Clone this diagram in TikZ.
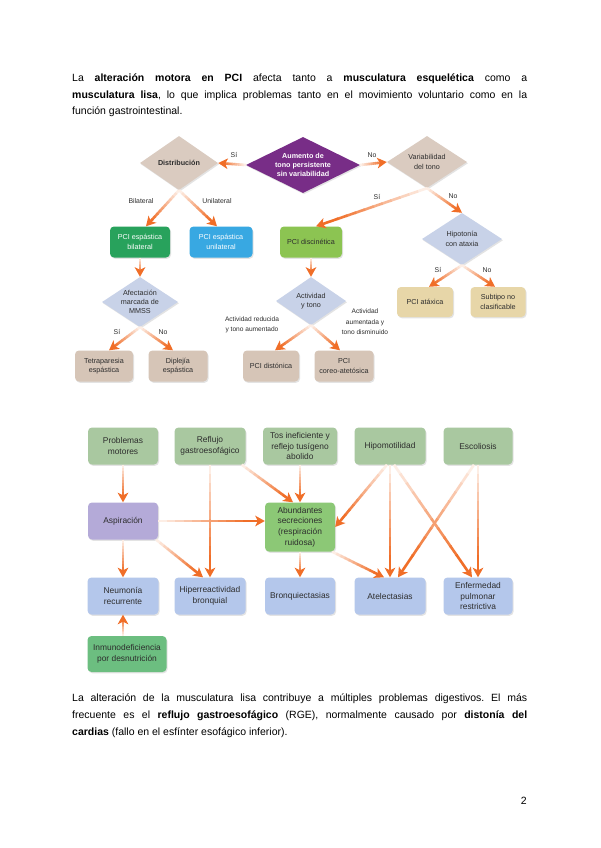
\documentclass[tikz,border=0pt]{standalone}
\usepackage{fontspec}
\setmainfont{Liberation Sans}
\usetikzlibrary{shapes.geometric,arrows.meta,calc,shadows}
\definecolor{txt}{RGB}{45,45,45}
\definecolor{purp}{RGB}{120,45,135}
\definecolor{taupe}{RGB}{218,203,192}
\definecolor{gbil}{RGB}{40,162,92}
\definecolor{buni}{RGB}{56,168,226}
\definecolor{gdis}{RGB}{140,196,82}
\definecolor{lblue}{RGB}{200,210,232}
\definecolor{beige}{RGB}{231,214,168}
\definecolor{taupeb}{RGB}{214,197,183}
\definecolor{sage}{RGB}{169,200,160}
\definecolor{lav}{RGB}{180,170,216}
\definecolor{agreen}{RGB}{140,200,118}
\definecolor{lbluet}{RGB}{180,199,235}
\definecolor{igreen}{RGB}{108,190,128}
\definecolor{arrc}{RGB}{240,110,40}
\newcommand\fntA{\fontsize{7.2}{9.3}\selectfont}
\newcommand\fntB{\fontsize{8.4}{10.6}\selectfont}
\newcommand\fntC{\fontsize{6.9}{8.5}\selectfont}
\newcommand\fntD{\fontsize{6.6}{10.5}\selectfont}
\newcommand\fntP{\fontsize{10.5}{16}\selectfont}
\newcommand{\garr}[2]{%
  \foreach \k in {0,...,9}{%
    \pgfmathtruncatemacro\gcc{12+\k*9}%
    \pgfmathsetmacro\gta{0.08*\k}%
    \pgfmathsetmacro\gtb{0.08*\k+0.09}%
    \draw[line width=2.6pt, draw=arrc!\gcc] ($(#1)!\gta!(#2)$) -- ($(#1)!\gtb!(#2)$);
  }%
  \draw[line width=2.6pt, draw=arrc, -{Stealth[length=9.5pt,width=10.5pt,inset=2.5pt]}] ($(#1)!0.8!(#2)$) -- (#2);
}
\begin{document}
\frenchspacing
\begin{tikzpicture}[x=1pt,y=-1pt,
  box/.style={rounded corners=4pt, inner sep=1.5pt, align=center, text=txt,
    drop shadow={opacity=0.22,shadow xshift=1pt,shadow yshift=-1.3pt}},
  dia/.style={diamond, inner sep=0pt, draw=none,
    drop shadow={opacity=0.22,shadow xshift=1pt,shadow yshift=-1.3pt}},
  dtxt/.style={align=center, inner sep=0pt, text=txt, font=\fntA},
  lbl/.style={inner sep=0pt, text=txt, font=\fntC},
  tb/.style={box, font=\fntA, minimum height=31pt},
  bb/.style={box, font=\fntB, minimum height=37pt},
  para/.style={anchor=base west, inner sep=0pt, font=\fntP, text=black}
]
\useasboundingbox (0,0) rectangle (600,848);
\fill[white] (0,0) rectangle (600,848);

% ---------- top paragraph ----------
\node[para] (p1) at (72,82) {\makebox[455pt][s]{La \textbf{alteración motora en PCI} afecta tanto a \textbf{musculatura esquelética} como a}};
\node[para] (p2) at (72,98.5) {\makebox[455pt][s]{\textbf{musculatura lisa}, lo que implica problemas tanto en el movimiento voluntario como en la}};
\node[para] (p3) at (72,115) {función gastrointestinal.};

% ---------- top chart ----------
\node[dia, fill=purp, minimum width=114pt, minimum height=56pt] (aum) at (303,165) {};
\node[dtxt, text=white, font=\fntA\bfseries] (aumt) at (aum) {Aumento de\\tono persistente\\sin variabilidad};
\node[dia, fill=taupe, minimum width=78pt, minimum height=54pt] (dist) at (179,163) {};
\node[dtxt, font=\fntA\bfseries] (distt) at (dist) {Distribución};
\node[dia, fill=taupe, minimum width=80pt, minimum height=52pt] (var) at (427,162) {};
\node[dtxt] (vart) at (var) {Variabilidad\\del tono};

\node[tb, fill=gbil, text=white, minimum width=60pt] (bil) at (140,242) {PCI espástica\\bilateral};
\node[tb, fill=buni, text=white, minimum width=63pt] (uni) at (221,242) {PCI espástica\\unilateral};
\node[tb, fill=gdis, minimum width=62pt] (disc) at (311,242) {PCI discinética};

\node[dia, fill=lblue, minimum width=80pt, minimum height=52pt] (hipo) at (462,239) {};
\node[dtxt] (hipot) at (hipo) {Hipotonía\\con ataxia};
\node[tb, fill=beige, minimum width=56pt, minimum height=30pt] (atax) at (425,302) {PCI atáxica};
\node[tb, fill=beige, minimum width=55pt, minimum height=30pt] (subt) at (498,302) {Subtipo no\\clasificable};

\node[dia, fill=lblue, minimum width=76pt, minimum height=50pt] (mmss) at (140,302) {};
\node[dtxt] (mmsst) at (mmss) {Afectación\\marcada de\\MMSS};
\node[tb, fill=taupeb, minimum width=58pt] (tetra) at (104,366) {Tetraparesia\\espástica};
\node[tb, fill=taupeb, minimum width=59pt] (dipl) at (178,366) {Diplejía\\espástica};

\node[dia, fill=lblue, minimum width=70pt, minimum height=48pt] (act) at (311,301) {};
\node[dtxt] (actt) at (act) {Actividad\\y tono};
\node[tb, fill=taupeb, minimum width=56pt] (dtn) at (271,366) {PCI distónica};
\node[tb, fill=taupeb, minimum width=59pt] (coreo) at (344,366) {PCI\\coreo-atetósica};

\node[lbl] (l1) at (234,155) {Sí};
\node[lbl] (l2) at (372,155) {No};
\node[lbl] (l3) at (141,201) {Bilateral};
\node[lbl] (l4) at (217,201) {Unilateral};
\node[lbl] (l5) at (377,197) {Sí};
\node[lbl] (l6) at (453,196) {No};
\node[lbl] (l7) at (438,270) {Sí};
\node[lbl] (l8) at (487,270) {No};
\node[lbl] (l9) at (117,332) {Sí};
\node[lbl] (l10) at (163,332) {No};
\node[lbl, align=center, font=\fntD] (l11) at (252,325) {Actividad reducida\\y tono aumentado};
\node[lbl, align=center, font=\fntD] (l12) at (365,322) {Actividad\\aumentada y\\tono disminuido};

\coordinate (cbil) at ([xshift=6pt]bil.north);
\coordinate (cuni) at ([xshift=-4pt]uni.north);
\coordinate (cdisc) at ([xshift=5pt]disc.north);
\coordinate (catax) at ([xshift=4pt]atax.north);
\coordinate (csubt) at ([xshift=-3pt]subt.north);
\coordinate (ctetra) at ([xshift=5pt]tetra.north);
\coordinate (cdipl) at ([xshift=-5pt]dipl.north);
\coordinate (cdtn) at ([xshift=4pt]dtn.north);
\coordinate (ccoreo) at ([xshift=-4pt]coreo.north);

\garr{aum.west}{dist.east}
\garr{aum.east}{var.west}
\garr{dist.south}{cbil}
\garr{dist.south}{cuni}
\garr{var.south}{cdisc}
\garr{var.south}{hipo.north}
\garr{hipo.south}{catax}
\garr{hipo.south}{csubt}
\garr{bil.south}{mmss.north}
\garr{mmss.south}{ctetra}
\garr{mmss.south}{cdipl}
\garr{disc.south}{act.north}
\garr{act.south}{cdtn}
\garr{act.south}{ccoreo}

% ---------- second chart ----------
\node[bb, fill=sage, minimum width=70pt] (pm) at (123,446) {Problemas\\motores};
\node[bb, fill=sage, minimum width=71pt] (refl) at (210,446) {Reflujo\\gastroesofágico};
\node[bb, fill=sage, minimum width=74pt] (tos) at (300,446) {Tos ineficiente y\\reflejo tusígeno\\abolido};
\node[bb, fill=sage, minimum width=71pt] (hipm) at (390,446) {Hipomotilidad};
\node[bb, fill=sage, minimum width=69pt] (esc) at (478,446) {Escoliosis};
\node[bb, fill=lav, minimum width=70pt] (asp) at (123,521) {Aspiración};
\node[bb, fill=agreen, minimum width=70pt, minimum height=49pt] (abund) at (300,527) {Abundantes\\secreciones\\(respiración\\ruidosa)};
\node[bb, fill=lbluet, minimum width=71pt] (neu) at (123,596) {Neumonía\\recurrente};
\node[bb, fill=lbluet, minimum width=71pt] (hiper) at (210,596) {Hiperreactividad\\bronquial};
\node[bb, fill=lbluet, minimum width=70pt] (bronq) at (300,596) {Bronquiectasias};
\node[bb, fill=lbluet, minimum width=71pt] (atel) at (390,596) {Atelectasias};
\node[bb, fill=lbluet, minimum width=69pt] (enf) at (478,596) {Enfermedad\\pulmonar\\restrictiva};
\node[bb, fill=igreen, minimum width=79pt, minimum height=36pt] (inm) at (127,654) {Inmunodeficiencia\\por desnutrición};

\coordinate (r1) at ([xshift=-4pt]refl.south east);
\coordinate (ab1) at ([xshift=-7pt]abund.north);
\coordinate (abw) at (abund.west |- asp.east);
\coordinate (as2) at ([xshift=-2pt]asp.south east);
\coordinate (hp1) at ([xshift=-7pt]hiper.north);
\coordinate (im1) at (neu.south |- inm.north);
\coordinate (ab3) at ([xshift=-3pt]abund.south east);
\coordinate (at1) at ([xshift=-6pt]atel.north);
\coordinate (hm1) at ([xshift=-3pt]hipm.south);
\coordinate (hm2) at ([xshift=4pt]hipm.south);
\coordinate (en1) at ([xshift=-6pt]enf.north);
\coordinate (es1) at ([xshift=-4pt]esc.south);
\coordinate (at2) at ([xshift=8pt]atel.north);

\garr{pm.south}{asp.north}
\garr{refl.south}{hiper.north}
\garr{r1}{ab1}
\garr{tos.south}{abund.north}
\garr{asp.east}{abw}
\garr{asp.south}{neu.north}
\garr{as2}{hp1}
\garr{im1}{neu.south}
\garr{abund.south}{bronq.north}
\garr{ab3}{at1}
\garr{hm1}{abund.east}
\garr{hipm.south}{atel.north}
\garr{hm2}{en1}
\garr{es1}{at2}
\garr{esc.south}{enf.north}

% ---------- bottom paragraph ----------
\node[para] (q1) at (72,701) {\makebox[455pt][s]{La alteración de la musculatura lisa contribuye a múltiples problemas digestivos. El más}};
\node[para] (q2) at (72,718) {\makebox[455pt][s]{frecuente es el \textbf{reflujo gastroesofágico} (RGE), normalmente causado por \textbf{distonía del}}};
\node[para] (q3) at (72,735) {\textbf{cardias} (fallo en el esfínter esofágico inferior).};
\node[anchor=base east, inner sep=0pt, font=\fntP] (pg) at (527,804) {2};
\end{tikzpicture}
\end{document}
